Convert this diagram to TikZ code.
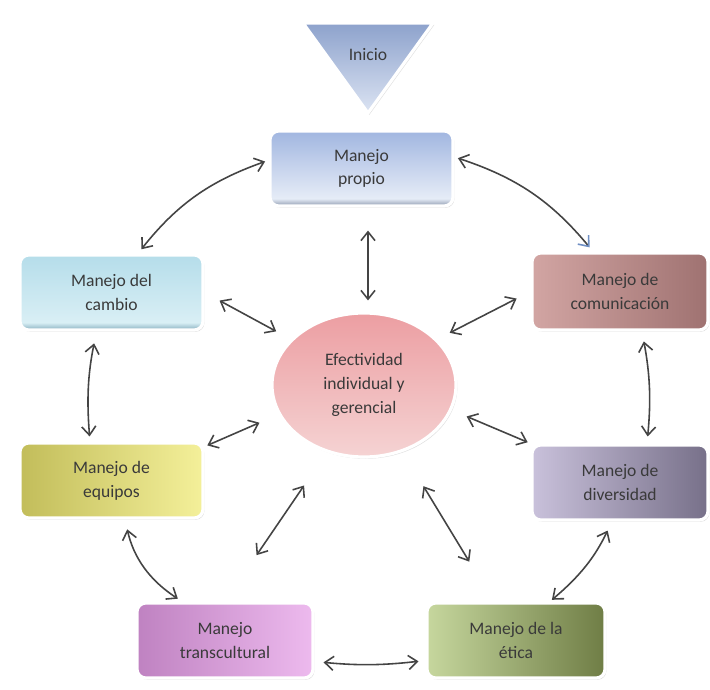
\documentclass[tikz,border=0pt]{standalone}
\usepackage{fontspec}
\setmainfont{Carlito}
\usetikzlibrary{arrows.meta,shapes.geometric,shadows}
\definecolor{mjtext}{HTML}{3A3A3A}
\definecolor{mjarrow}{HTML}{444444}
\definecolor{mjtip}{HTML}{6F8FC4}
\definecolor{mjtriA}{HTML}{8DA2CC}
\definecolor{mjtriB}{HTML}{DCE4F3}
\definecolor{mjpropA}{HTML}{A1B6E0}
\definecolor{mjpropB}{HTML}{E6ECF7}
\definecolor{mjpropC}{HTML}{8E9AAF}
\definecolor{mjcambA}{HTML}{B5DDEA}
\definecolor{mjcambB}{HTML}{D9EFF5}
\definecolor{mjcambC}{HTML}{86AEBE}
\definecolor{mjcomA}{HTML}{D2A5A3}
\definecolor{mjcomB}{HTML}{9F7271}
\definecolor{mjefA}{HTML}{EC9EA2}
\definecolor{mjefB}{HTML}{F5D3D3}
\definecolor{mjequA}{HTML}{C2BD5A}
\definecolor{mjequB}{HTML}{F4F09A}
\definecolor{mjdivA}{HTML}{C9C1DB}
\definecolor{mjdivB}{HTML}{777089}
\definecolor{mjtraA}{HTML}{BF82C1}
\definecolor{mjtraB}{HTML}{EDBAEE}
\definecolor{mjetiA}{HTML}{C6D79E}
\definecolor{mjetiB}{HTML}{6F7D45}

% glossy vertical fills with a darker band at the bottom
\pgfdeclareverticalshading{propioshade}{100bp}{color(0bp)=(mjpropC); color(25bp)=(mjpropC);
  color(30bp)=(mjpropB); color(75bp)=(mjpropA); color(100bp)=(mjpropA)}
\pgfdeclareverticalshading{cambioshade}{100bp}{color(0bp)=(mjcambC); color(25bp)=(mjcambC);
  color(30bp)=(mjcambB); color(75bp)=(mjcambA); color(100bp)=(mjcambA)}

\begin{document}
\begin{tikzpicture}[
  caja/.style={rectangle,rounded corners=5pt,draw=white,line width=1.8pt,
               minimum width=3.66cm,minimum height=1.5cm,
               font=\fontsize{10}{13.5}\selectfont,text=mjtext,align=center,
               drop shadow={opacity=0.25,shadow xshift=0.8pt,shadow yshift=-1pt}},
  centro/.style={ellipse,draw=white,line width=1.8pt,inner sep=0pt,
               minimum width=3.68cm,minimum height=2.88cm,
               font=\fontsize{10}{13.5}\selectfont,text=mjtext,align=center,
               drop shadow={opacity=0.25,shadow xshift=0.8pt,shadow yshift=-1pt}},
  link/.style={{Straight Barb[length=5pt,width=8pt]}-{Straight Barb[length=5pt,width=8pt]},
               line width=0.9pt,mjarrow}
]
  \fill[white] (-7.1,-6.9) rectangle (7.1,6.9);
  \useasboundingbox (-7.1,-6.9) rectangle (7.1,6.9);

  % ---- Inicio (triangle on top) ------------------------------
  \path[draw=white,line width=1.8pt,line join=round,
        top color=mjtriA,bottom color=mjtriB,
        drop shadow={opacity=0.25,shadow xshift=0.8pt,shadow yshift=-1pt}]
    (-1.04,6.44) -- (1.56,6.44) -- (0.26,4.64) -- cycle;
  \node[font=\fontsize{10}{13.5}\selectfont,text=mjtext] (inicio) at (0.26,5.8) {Inicio};

  % ---- Boxes round the centre --------------------------------
  \node[caja,shading=propioshade] (propio) at (0.13,3.53)
    {Manejo\\propio};
  \node[caja,shading=cambioshade] (cambio) at (-4.87,1.05)
    {Manejo del\\cambio};
  \node[caja,minimum width=3.52cm,minimum height=1.54cm,
        left color=mjcomA,right color=mjcomB] (comunic) at (5.3,1.07)
    {Manejo de\\comunicación};
  \node[caja,left color=mjequA,right color=mjequB] (equipos) at (-4.87,-2.71)
    {Manejo de\\equipos};
  \node[caja,minimum width=3.52cm,left color=mjdivA,right color=mjdivB] (divers) at (5.3,-2.75)
    {Manejo de\\diversidad};
  \node[caja,minimum width=3.52cm,left color=mjtraA,right color=mjtraB] (transc) at (-2.6,-5.91)
    {Manejo\\transcultural};
  \node[caja,minimum width=3.56cm,left color=mjetiA,right color=mjetiB] (etica) at (3.22,-5.91)
    {Manejo de la\\ética};

  % ---- Centre ellipse ----------------------------------------
  \node[centro,top color=mjefA,bottom color=mjefB] (efect) at (0.18,-0.8)
    {Efectividad\\individual y\\gerencial};

  % Arrows to the centre
  \draw[link,shorten <=0.46cm,shorten >=0.22cm] ([xshift=0.13cm]propio.south) -- ([xshift=0.08cm]efect.north);
  \draw[link,shorten <=0.34cm,shorten >=0.33cm] (cambio.east) -- (efect.148);
  \draw[link,shorten <=0.31cm,shorten >=0.28cm] (comunic.west) -- (efect.32);
  \draw[link,shorten <=0.06cm,shorten >=0.41cm] (equipos.20) -- (efect.199);
  \draw[link,shorten <=0.32cm,shorten >=0.06cm] (efect.344) -- (divers.north west);
  \draw[link,shorten <=0.8cm,shorten >=1.12cm] (efect.241) -- (transc.north);
  \draw[link,shorten <=0.8cm,shorten >=0.93cm] (efect.300) -- (etica.120);

  % Arrows round the ring
  \draw[link,shorten <=2pt,shorten >=3pt] (propio.175) to[bend right=16] ([xshift=0.53cm]cambio.north);
  \draw[{Straight Barb[length=5pt,width=8pt]}-{Straight Barb[length=5pt,width=8pt,color=mjtip]},
        line width=0.9pt,mjarrow,shorten <=2pt,shorten >=3pt]
    (propio.7) to[bend left=16] ([xshift=-0.54cm]comunic.north);
  \draw[link,shorten <=0.24cm,shorten >=0.1cm] ([xshift=-0.3cm]cambio.south) to[bend right=8] ([xshift=-0.43cm]equipos.north);
  \draw[link,shorten <=0.2cm,shorten >=0.14cm] ([xshift=0.44cm]comunic.south) to[bend left=8] ([xshift=0.54cm]divers.north);
  \draw[link,shorten <=0.2cm,shorten >=0.1cm] ([xshift=0.27cm]equipos.south) to[bend right=22] ([xshift=-0.86cm]transc.north);
  \draw[link,shorten <=0.2cm,shorten >=0.05cm] ([xshift=-0.16cm]divers.south) to[bend left=12] ([xshift=0.68cm]etica.north);
  \draw[link,shorten <=0.18cm,shorten >=0.14cm] ([yshift=-0.42cm]transc.east) to[bend right=6] ([yshift=-0.4cm]etica.west);

\end{tikzpicture}
\end{document}
